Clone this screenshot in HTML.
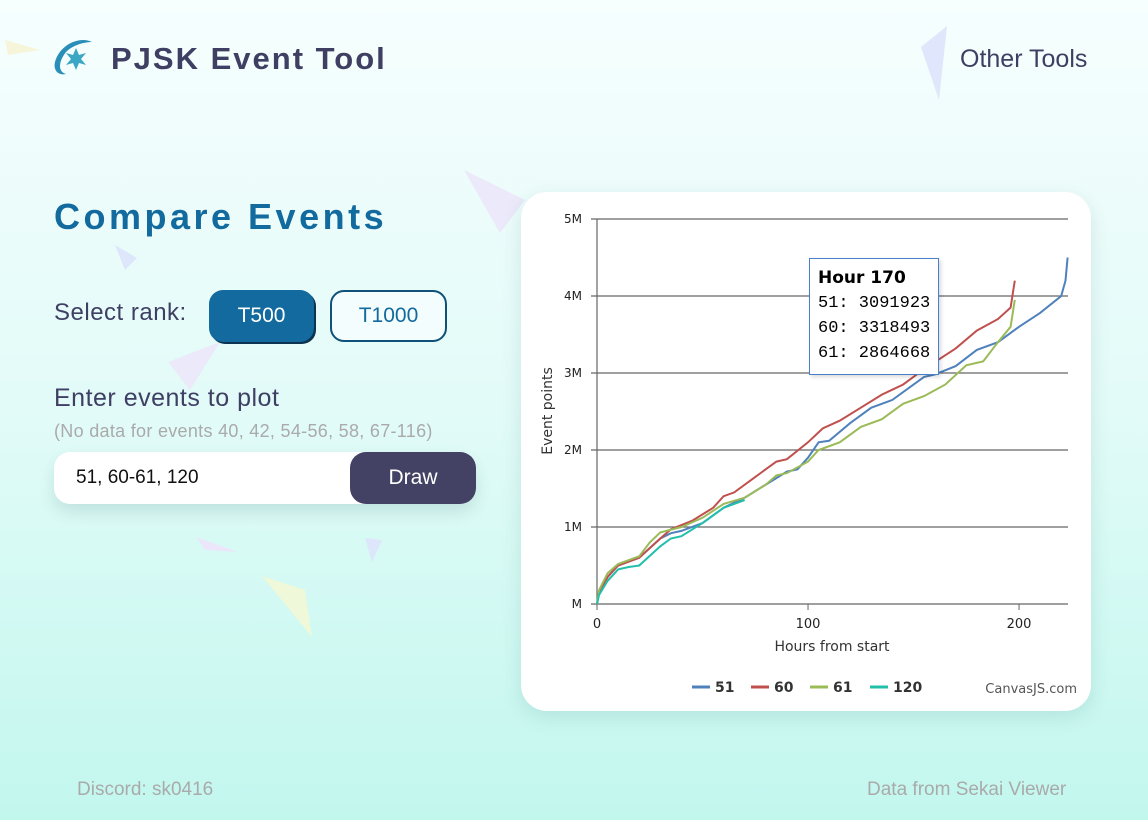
<!DOCTYPE html>
<html><head><meta charset="utf-8">
<style>
*{margin:0;padding:0;box-sizing:border-box}
body{width:1148px;height:820px;overflow:hidden;position:relative;font-family:"Liberation Sans",sans-serif;background:linear-gradient(180deg,#f6fefe 0%,#e2fbf8 50%,#c2f7ee 100%)}
.abs{position:absolute;white-space:nowrap}
</style></head><body>
<svg class="abs" style="left:0;top:0" width="1148" height="820">
<polygon points="5,40 40,50 8,55" fill="#f7f5d9"/>
<polygon points="921,47 947,26 939,100" fill="#e0e6fb"/>
<polygon points="464,170 525,200 500,233" fill="#ebe9fa"/>
<polygon points="115,245 137,258 125,270" fill="#dde6fb"/>
<polygon points="168,362 220,342 190,390" fill="#ebe9fa"/>
<polygon points="196,537 238,552 205,550" fill="#ebe6fa"/>
<polygon points="365,538 382,540 372,562" fill="#dde6fb"/>
<polygon points="262,576 305,590 312,637" fill="#eff8d8"/>
</svg>
<svg class="abs" style="left:52px;top:38px" width="44" height="40">
<path d="M40,4 C28,-2 8,6 3,24 C1,32 6,38 14,36 C6,34 6,24 14,14 C22,6 34,4 40,4Z" fill="#2a8fb8"/>
<polygon points="24,10 27,17 34,15 29,21 34,27 27,25 24,32 21,25 14,27 19,21 14,15 21,17" fill="#3ba7c4"/>
</svg>
<div class="abs" style="left:111px;top:41px;font-size:31px;font-weight:bold;color:#3f3f63;letter-spacing:2px">PJSK Event Tool</div>
<div class="abs" style="left:960px;top:45px;font-size:25px;color:#3f3f63">Other Tools</div>
<div class="abs" style="left:54px;top:196px;font-size:36px;font-weight:bold;color:#126a9e;letter-spacing:3.5px">Compare Events</div>
<div class="abs" style="left:54px;top:299px;font-size:24px;color:#3f3f63;letter-spacing:0.5px">Select rank:</div>
<div class="abs" style="left:209px;top:290px;width:105px;height:52px;border-radius:14px;background:#126a9e;box-shadow:2px 2px 0 #0c3350;color:#fff;font-size:21px;display:flex;align-items:center;justify-content:center">T500</div>
<div class="abs" style="left:330px;top:290px;width:117px;height:52px;border-radius:14px;border:2px solid #0f5178;background:#f4fdfd;color:#126a9e;font-size:21px;display:flex;align-items:center;justify-content:center">T1000</div>
<div class="abs" style="left:54px;top:384px;font-size:25px;color:#3f3f63;letter-spacing:0.5px">Enter events to plot</div>
<div class="abs" style="left:54px;top:421px;font-size:18px;color:#aaa;letter-spacing:0.3px">(No data for events 40, 42, 54-56, 58, 67-116)</div>
<div class="abs" style="left:54px;top:452px;width:422px;height:52px;border-radius:16px;background:#fff;box-shadow:0 8px 16px rgba(0,60,60,0.12)">
<div class="abs" style="left:22px;top:15px;font-size:19px;color:#111">51, 60-61, 120</div>
<div class="abs" style="left:296px;top:0;width:126px;height:52px;border-radius:16px;background:#434264;color:#fff;font-size:21px;display:flex;align-items:center;justify-content:center">Draw</div>
</div>
<div class="abs" style="left:521px;top:192px;width:570px;height:519px;border-radius:26px;background:#fff;box-shadow:0 6px 20px rgba(0,80,80,0.12)"></div>
<svg id="chart" class="abs" style="left:0;top:0" width="1148" height="820"></svg>
<div class="abs" style="left:809px;top:258px;width:130px;height:117px;background:#fff;border:1px solid #4a7fc9;box-shadow:2px 2px 4px rgba(0,0,0,0.15);font-family:'Liberation Mono',monospace;font-size:17px;line-height:25px;padding:7px 0 0 8px;color:#000;overflow:hidden">
<div style="font-family:'DejaVu Sans','Liberation Sans',sans-serif;font-weight:bold;font-size:17px">Hour 170</div>
<div>51: 3091923</div>
<div>60: 3318493</div>
<div>61: 2864668</div>
</div>
<div class="abs" style="left:77px;top:779px;font-size:19px;color:#aaa">Discord: sk0416</div>
<div class="abs" style="left:867px;top:779px;font-size:19px;color:#aaa">Data from Sekai Viewer</div>
<script>
const seriesNames=["51","60","61","120"];
const seriesColors=["#4f81bc","#c0504e","#9bbb58","#23bfaa"];
const hours51=[0,1,5,10,20,30,35,40,50,60,70,80,90,95,100,105,110,120,130,140,150,155,160,170,180,190,200,210,220,222,223];
const vals51=[0,0.15,0.35,0.5,0.6,0.85,0.92,0.95,1.05,1.25,1.38,1.55,1.72,1.75,1.9,2.1,2.12,2.35,2.55,2.65,2.85,2.95,2.98,3.09,3.3,3.4,3.6,3.78,4.0,4.2,4.5];
const hours60=[0,1,5,10,20,30,35,45,55,60,65,75,85,90,100,107,115,125,135,145,155,170,180,190,196,198];
const vals60=[0,0.15,0.35,0.5,0.6,0.85,0.97,1.08,1.25,1.4,1.45,1.65,1.85,1.88,2.1,2.28,2.38,2.55,2.72,2.85,3.05,3.32,3.55,3.7,3.85,4.2];
const hours61=[0,1,5,10,20,25,30,40,50,60,70,80,85,90,100,105,115,125,135,145,155,165,175,183,190,196,198];
const vals61=[0,0.18,0.4,0.52,0.62,0.8,0.93,1.0,1.12,1.3,1.38,1.55,1.67,1.7,1.85,2.0,2.1,2.3,2.4,2.6,2.7,2.85,3.1,3.15,3.4,3.6,3.95];
const hours120=[0,1,5,10,15,20,30,35,40,50,60,65,70];
const vals120=[0,0.12,0.3,0.45,0.48,0.5,0.75,0.85,0.88,1.05,1.25,1.3,1.35];
const yTicks=[0,1,2,3,4,5];
const yTickLabels=["M","1M","2M","3M","4M","5M"];
const xTicks=[0,100,200];
const NS="http://www.w3.org/2000/svg";
const svg=document.getElementById("chart");
const X0=597,X1=1068,XMAX=223.2,Y0=604,Y1=219,YMAX=5;
function xs(h){return X0+(X1-X0)*h/XMAX}
function ys(v){return Y0-(Y0-Y1)*v/YMAX}
function mk(tag,attrs){const e=document.createElementNS(NS,tag);for(const k in attrs)e.setAttribute(k,attrs[k]);svg.appendChild(e);return e}
yTicks.forEach((t,i)=>{
 const g=mk("line",{x1:X0-6,x2:X1,y1:ys(t),y2:ys(t),stroke:"#666","stroke-width":1.2});
 
 
 const tx=mk("text",{x:X0-15,y:ys(t)+4,"text-anchor":"end","font-size":12,fill:"#222","font-family":"DejaVu Sans, sans-serif"});
 tx.textContent=yTickLabels[i];
 
 
});
const ya=mk("line",{x1:X0,x2:X0,y1:Y1,y2:Y0,stroke:"#666","stroke-width":1.2});


xTicks.forEach(t=>{
 const l=mk("line",{x1:xs(t),x2:xs(t),y1:Y0,y2:Y0+6,stroke:"#666"});
 
 
 const tx=mk("text",{x:xs(t),y:Y0+24,"text-anchor":"middle","font-size":13,fill:"#222","font-family":"DejaVu Sans, sans-serif"});
 tx.textContent=t;
 
 
});
const xt=mk("text",{x:832,y:651,"text-anchor":"middle","font-size":14,fill:"#333","font-family":"DejaVu Sans, sans-serif"});
xt.textContent="Hours from start";


const yt=mk("text",{x:0,y:0,"text-anchor":"middle","font-size":14,fill:"#333","font-family":"DejaVu Sans, sans-serif",transform:"translate(552,411) rotate(-90)"});
yt.textContent="Event points";


const allH=[hours51,hours60,hours61,hours120],allV=[vals51,vals60,vals61,vals120];
allH.forEach((hs,i)=>{
 const d=hs.map((h,j)=>(j?"L":"M")+xs(h).toFixed(1)+","+ys(allV[i][j]).toFixed(1)).join(" ");
 const p=mk("path",{d:d,fill:"none",stroke:seriesColors[i],"stroke-width":2});
 
 
});
const legX=[692,751,810,870];
seriesNames.forEach((n,i)=>{
 const l=mk("line",{x1:legX[i],x2:legX[i]+18,y1:687,y2:687,stroke:seriesColors[i],"stroke-width":3});
 
 
 const t=mk("text",{x:legX[i]+23,y:692,"font-size":14,"font-weight":"bold",fill:"#333","font-family":"DejaVu Sans, sans-serif"});
 t.textContent=n;
 
 
});
const cr=mk("text",{x:1077,y:693,"text-anchor":"end","font-size":13,fill:"#555","font-family":"DejaVu Sans, sans-serif"});
cr.textContent="CanvasJS.com";


</script>
</body></html>
